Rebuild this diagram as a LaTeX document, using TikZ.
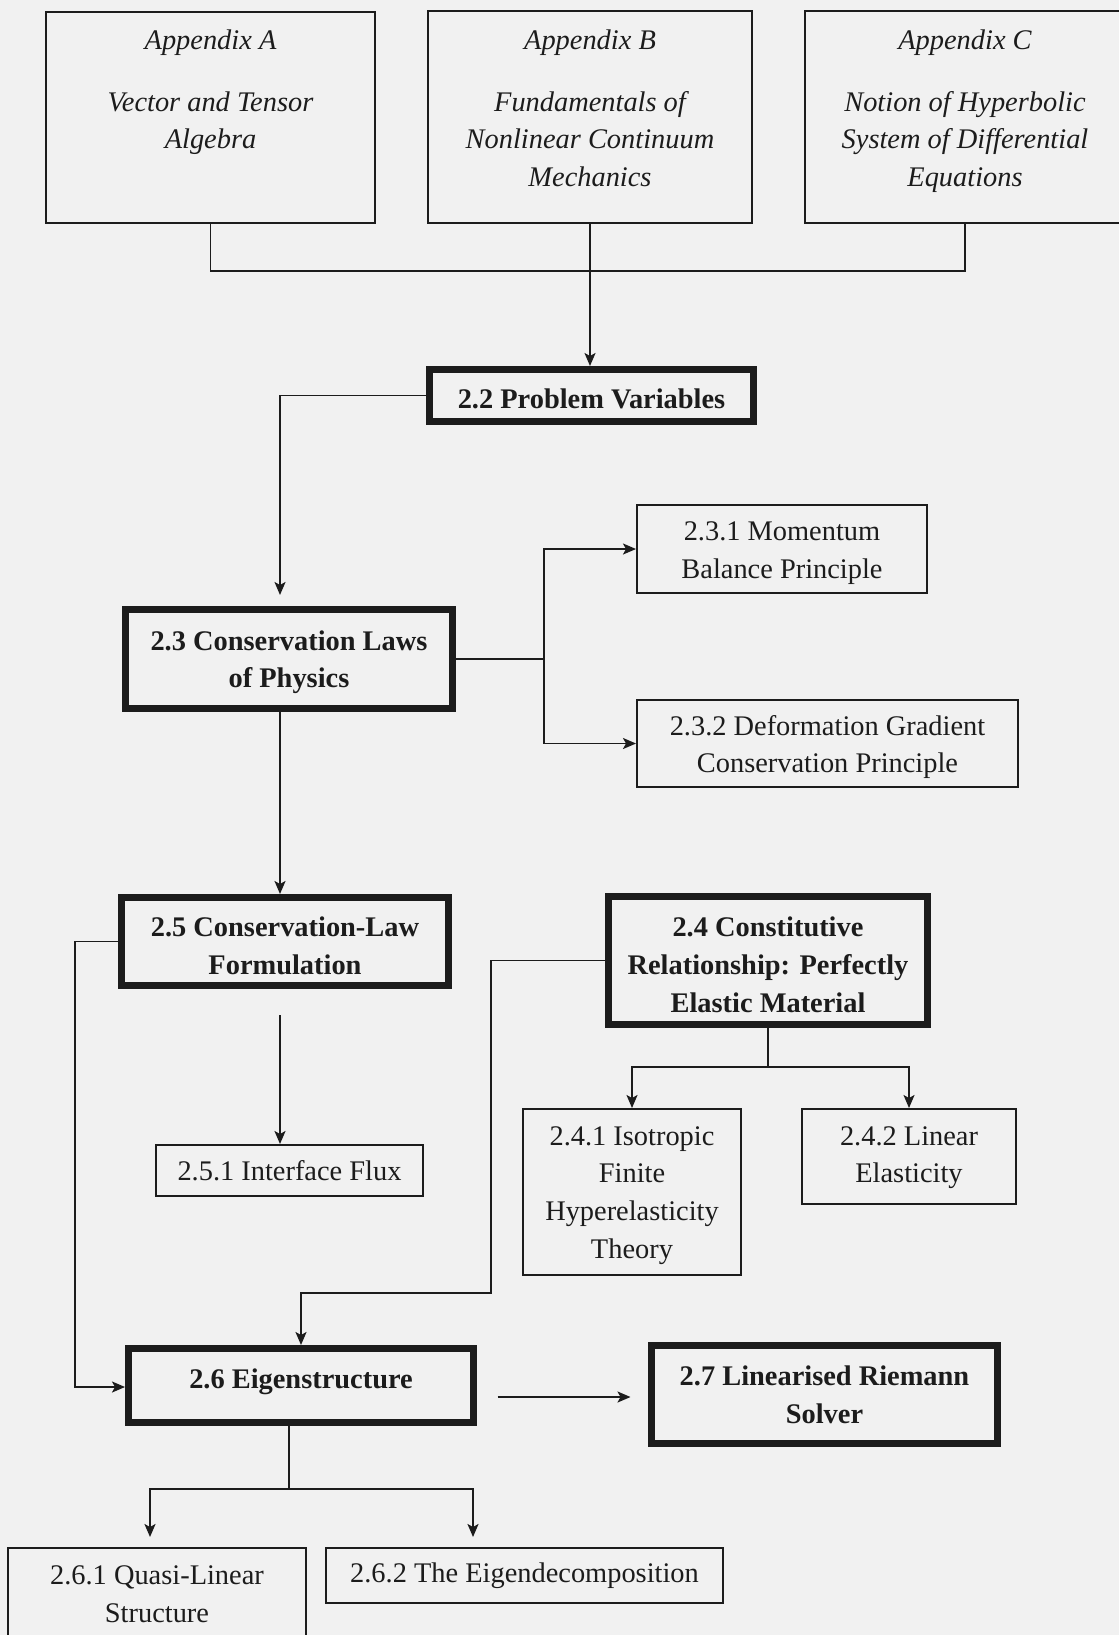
\documentclass[tikz,border=0pt]{standalone}
\usepackage{fontspec}
\setmainfont{Liberation Serif}
\usetikzlibrary{arrows.meta}
\definecolor{ink}{RGB}{28,28,28}
\definecolor{paper}{RGB}{241,241,241}
% invisible strut that makes the first text line taller, lowering the text block
\newcommand{\topgap}[1]{\rule{0pt}{#1}}
\begin{document}
\begin{tikzpicture}[x=0.5pt,y=-0.5pt,
  every node/.style={font=\fontsize{14.2}{18.8}\selectfont, text=ink, align=center, inner sep=0pt},
  heavybox/.style={draw=ink, line width=3.5pt, font=\fontsize{14.2}{18.8}\selectfont\bfseries},
  plainbox/.style={draw=ink, line width=1pt},
  appbox/.style={draw=ink, line width=1.3pt},
  apptext/.style={anchor=north, font=\fontsize{14.2}{18.8}\selectfont\itshape},
  link/.style={draw=ink, line width=0.9pt},
  arrow/.style={link, -{Stealth[length=6.5pt,width=5.5pt,inset=1.5pt]}},
]
\useasboundingbox (0,0) rectangle (1119,1635);
\fill[paper] (0,0) rectangle (1119,1635);

% appendix boxes
\node[appbox, minimum width=164.5pt, minimum height=105.5pt] (appA) at (210.5,117.5) {};
\node[appbox, minimum width=162pt, minimum height=106pt] (appB) at (590,117) {};
\node[appbox, minimum width=160pt, minimum height=106pt] (appC) at (965,117) {};
\node[apptext] (appAtext) at (210.5,29) {Appendix A\\[12.2pt]Vector and Tensor\\Algebra};
\node[apptext] (appBtext) at (590,29) {Appendix B\\[12.2pt]Fundamentals of\\Nonlinear Continuum\\Mechanics};
\node[apptext] (appCtext) at (965,29) {Appendix C\\[12.2pt]Notion of Hyperbolic\\System of Differential\\Equations};

% chapter sections
\node[heavybox, minimum width=162pt, minimum height=26pt] (s22) at (591.5,395.5) {\topgap{13pt}2.2 Problem Variables};
\node[heavybox, minimum width=163.5pt, minimum height=49.5pt] (s23) at (289,659) {\topgap{13pt}2.3 Conservation Laws\\of Physics};
\node[plainbox, minimum width=145pt, minimum height=44pt] (s231) at (782,549) {\topgap{13.7pt}2.3.1 Momentum\\Balance Principle};
\node[plainbox, minimum width=190.5pt, minimum height=43.5pt] (s232) at (827.5,743.5) {\topgap{13.7pt}2.3.2 Deformation Gradient\\Conservation Principle};
\node[heavybox, minimum width=163.5pt, minimum height=44pt] (s25) at (285,941.5) {\topgap{14.2pt}2.5 Conservation-Law\\Formulation};
\node[plainbox, minimum width=133.5pt, minimum height=25.5pt] (s251) at (289.5,1170.5) {2.5.1 Interface Flux};
\node[heavybox, minimum width=159.5pt, minimum height=64pt] (s24) at (768,960.5) {\topgap{14.2pt}2.4 Constitutive\\Relationship: Perfectly\\Elastic Material};
\node[plainbox, minimum width=109pt, minimum height=83pt] (s241) at (632,1192) {\topgap{12.7pt}2.4.1 Isotropic\\Finite\\Hyperelasticity\\Theory};
\node[plainbox, minimum width=107pt, minimum height=47.5pt] (s242) at (909,1156.5) {\topgap{10.7pt}2.4.2 Linear\\Elasticity};
\node[heavybox, minimum width=172.5pt, minimum height=37pt] (s26) at (301,1385.5) {2.6 Eigenstructure\rule[-7pt]{0pt}{0pt}};
\node[heavybox, minimum width=173pt, minimum height=49pt] (s27) at (824.5,1394.5) {2.7 Linearised Riemann\\Solver};
\node[plainbox, minimum width=149pt, minimum height=46.5pt] (s261) at (157,1594.5) {2.6.1 Quasi-Linear\\Structure};
\node[plainbox, minimum width=198.5pt, minimum height=27.5pt] (s262) at (524.5,1575.5) {2.6.2 The Eigendecomposition};

% junction points
\coordinate (rail) at (280,595);
\coordinate (fork23) at (544,659);
\coordinate (jog24) at (491,1293);
\coordinate (fork24) at (768,1067);
\coordinate (fork26) at (289,1489);
\coordinate (tip261) at (150,1537);
\coordinate (tip262) at (473,1537);

% appendices feed 2.2
\draw[link] (appA.south) -- ++(0,47) -| (appC.south);
\draw[arrow] (appB.south) -- (appB.south |- s22.north);

% 2.2 -> 2.3
\draw[arrow] (s22.west) -| (rail);

% 2.3 -> subsections
\draw[link] (s23.east) -- (fork23);
\draw[arrow] (fork23) |- (s231.west);
\draw[arrow] (fork23) |- (s232.west);

% 2.3 -> 2.5 -> 2.5.1
\draw[arrow] (s23.south -| rail) -- (s25.north -| rail);
\draw[arrow] ([yshift=-13pt]s25.south -| rail) -- (s251.north -| rail);

% 2.5 -> 2.6
\draw[arrow] (s25.west) -- ++(-43,0) |- ([yshift=-0.75pt]s26.west);

% 2.4 -> 2.6 and subsections
\draw[arrow] (s24.west) -| (jog24) -| (s26.north);
\draw[link] (s24.south) -- (fork24);
\draw[arrow] (fork24) -| (s241.north);
\draw[arrow] (fork24) -| (s242.north);

% 2.6 -> 2.7
\draw[arrow] ([shift={(20.5,11.5)}]s26.east) -- ([shift={(-17.5,2.5)}]s27.west);

% 2.6 -> subsections
\draw[link] (fork26 |- s26.south) -- (fork26);
\draw[arrow] (fork26) -| (tip261);
\draw[arrow] (fork26) -| (tip262);
\end{tikzpicture}
\end{document}
